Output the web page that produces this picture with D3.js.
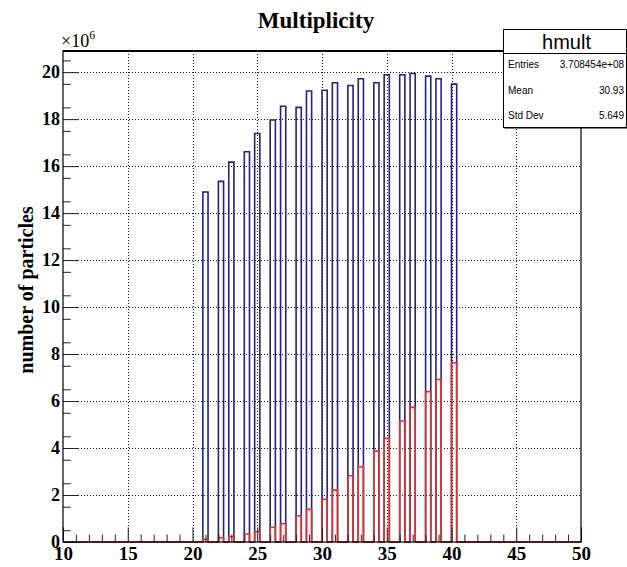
<!DOCTYPE html>
<html>
<head>
<meta charset="utf-8">
<script src="https://cdn.jsdelivr.net/npm/d3@7"></script>
<style>
  body { margin: 0; background: #fff; }
  svg { display: block; }
</style>
</head>
<body>
<div id="chart"></div>
<script>
// multiplicity values filled into the histogram (one bin each)
var multiplicity = [21, 22, 23, 24, 25, 26, 27, 28, 29, 30, 31, 32, 33, 34, 35, 36, 37, 38, 39, 40];
// blue histogram (hmult), in units of 1e6
var countsAll = [14.9, 15.35, 16.17, 16.61, 17.39, 17.96, 18.55, 18.5, 19.2, 19.23,
                 19.55, 19.43, 19.72, 19.55, 19.89, 19.89, 19.94, 19.83, 19.72, 19.49];
// red histogram, in units of 1e6
var countsSel = [0.11, 0.18, 0.23, 0.34, 0.44, 0.63, 0.78, 1.12, 1.39, 1.82,
                 2.21, 2.82, 3.2, 3.87, 4.41, 5.15, 5.73, 6.4, 6.92, 7.63];
// binning of the histogram
var xMin = 10, xMax = 50, nBins = 100;
var xTickLabels = [10, 15, 20, 25, 30, 35, 40, 45, 50];
var yTickLabels = [0, 2, 4, 6, 8, 10, 12, 14, 16, 18, 20];
var yMax = 20.9;

var statNames = ["Entries", "Mean", "Std Dev"];
var statValues = ["3.708454e+08", "30.93", "5.649"];

var W = 627, H = 567;
var frame = { left: 63, right: 581, top: 51, bottom: 542 };

var svg = d3.select("#chart").append("svg")
    .attr("width", W)
    .attr("height", H);

svg.append("rect").attr("width", W).attr("height", H).attr("fill", "#fff");

var x = d3.scaleLinear().domain([xMin, xMax]).range([frame.left, frame.right]);
var y = d3.scaleLinear().domain([0, yMax]).range([frame.bottom, frame.top]);

var serif = "'Liberation Serif', 'Times New Roman', serif";
var sans = "'Liberation Sans', Arial, sans-serif";

// grid (dotted)
var grid = svg.append("g").attr("stroke", "#111").attr("stroke-width", 1)
    .attr("stroke-dasharray", "1,2");
grid.selectAll("line.gx")
    .data(xTickLabels.filter(function(d) { return d > xMin && d < xMax; }))
    .enter().append("line")
    .attr("class", "gx")
    .attr("x1", function(d) { return Math.round(x(d)) + 0.5; })
    .attr("x2", function(d) { return Math.round(x(d)) + 0.5; })
    .attr("y1", frame.top)
    .attr("y2", frame.bottom);
grid.selectAll("line.gy")
    .data(yTickLabels.filter(function(d) { return d > 0; }))
    .enter().append("line")
    .attr("class", "gy")
    .attr("x1", frame.left)
    .attr("x2", frame.right)
    .attr("y1", function(d) { return Math.round(y(d)) + 0.5; })
    .attr("y2", function(d) { return Math.round(y(d)) + 0.5; });

// build the binned histograms
function binned(values) {
    var bins = new Array(nBins).fill(0);
    var bw = (xMax - xMin) / nBins;
    multiplicity.forEach(function(m, i) {
        var k = Math.floor((m - xMin) / bw + 1e-9);
        if (k >= 0 && k < nBins) bins[k] += values[i];
    });
    var pts = [[xMin, 0]];
    bins.forEach(function(c, k) { pts.push([xMin + k * bw, c]); });
    pts.push([xMax, 0]);
    return pts;
}

var step = d3.line()
    .x(function(d) { return x(d[0]); })
    .y(function(d) { return y(d[1]); })
    .curve(d3.curveStepAfter);

svg.append("path")
    .attr("d", step(binned(countsAll)))
    .attr("fill", "none")
    .attr("stroke", "#23237a")
    .attr("stroke-width", 1.6);

svg.append("path")
    .attr("d", step(binned(countsSel)))
    .attr("fill", "none")
    .attr("stroke", "#e3302c")
    .attr("stroke-width", 1.6);

// axes
var yAxis = svg.append("g")
    .attr("transform", "translate(" + frame.left + ",0)")
    .call(d3.axisLeft(y).tickValues(yTickLabels).tickSizeInner(-15.5).tickSizeOuter(0)
        .tickPadding(3).tickFormat(d3.format("d")));
yAxis.select(".domain").remove();
yAxis.selectAll("text")
    .attr("font-family", serif)
    .attr("font-weight", "bold")
    .attr("font-size", 18)
    .attr("fill", "#000");
yAxis.selectAll("line").attr("stroke", "#222");

var yMinor = svg.append("g")
    .attr("transform", "translate(" + frame.left + ",0)")
    .call(d3.axisLeft(y).tickValues(d3.range(0.5, yMax, 1)).tickSizeInner(-7.8).tickSizeOuter(0)
        .tickFormat(""));
yMinor.select(".domain").remove();
yMinor.selectAll("line").attr("stroke", "#222");

var xAxis = svg.append("g")
    .attr("transform", "translate(0," + frame.bottom + ")")
    .call(d3.axisBottom(x).tickValues(xTickLabels).tickSizeInner(-14.7).tickSizeOuter(0)
        .tickPadding(5).tickFormat(d3.format("d")));
xAxis.select(".domain").remove();
xAxis.selectAll("text")
    .attr("font-family", serif)
    .attr("font-weight", "bold")
    .attr("font-size", 19)
    .attr("fill", "#000");
xAxis.selectAll("line").attr("stroke", "#222");

var xMinor = svg.append("g")
    .attr("transform", "translate(0," + frame.bottom + ")")
    .call(d3.axisBottom(x).tickValues(d3.range(xMin + 1, xMax, 1).filter(function(d) { return d % 5 !== 0; }))
        .tickSizeInner(-7.4).tickSizeOuter(0).tickFormat(""));
xMinor.select(".domain").remove();
xMinor.selectAll("line").attr("stroke", "#222");

// frame
svg.append("rect")
    .attr("x", frame.left)
    .attr("y", frame.top)
    .attr("width", frame.right - frame.left)
    .attr("height", frame.bottom - frame.top)
    .attr("fill", "none")
    .attr("stroke", "#000")
    .attr("stroke-width", 1.2);
svg.append("line")
    .attr("x1", frame.left).attr("x2", frame.right)
    .attr("y1", frame.top).attr("y2", frame.top)
    .attr("stroke", "#000").attr("stroke-width", 2);

// exponent label
var expo = svg.append("text")
    .attr("x", 61)
    .attr("y", 47)
    .attr("font-family", serif)
    .attr("font-size", 18)
    .attr("fill", "#000");
expo.append("tspan").text("\u00d710");
expo.append("tspan").attr("dy", -8).attr("font-size", 12).text("6");

// title
svg.append("text")
    .attr("x", 316)
    .attr("y", 28)
    .attr("text-anchor", "middle")
    .attr("font-family", serif)
    .attr("font-weight", "bold")
    .attr("font-size", 23)
    .attr("fill", "#000")
    .text("Multiplicity");

// y label
svg.append("text")
    .attr("transform", "translate(33,290)rotate(-90)")
    .attr("text-anchor", "middle")
    .attr("font-family", serif)
    .attr("font-weight", "bold")
    .attr("font-size", 20)
    .attr("fill", "#000")
    .text("number of particles");

// stats box
var box = { x: 503, y: 29, w: 123, h: 98, head: 24 };
svg.append("rect")
    .attr("x", box.x + 1.5).attr("y", box.y + 1.5)
    .attr("width", box.w).attr("height", box.h)
    .attr("fill", "#000");
svg.append("rect")
    .attr("x", box.x + 0.5).attr("y", box.y + 0.5)
    .attr("width", box.w).attr("height", box.h)
    .attr("fill", "#fff")
    .attr("stroke", "#000");
svg.append("line")
    .attr("x1", box.x).attr("x2", box.x + box.w)
    .attr("y1", box.y + box.head + 0.5).attr("y2", box.y + box.head + 0.5)
    .attr("stroke", "#000");
svg.append("text")
    .attr("x", box.x + box.w / 2 + 2)
    .attr("y", 49)
    .attr("text-anchor", "middle")
    .attr("font-family", sans)
    .attr("font-size", 20)
    .attr("fill", "#000")
    .text("hmult");

var rows = svg.append("g").selectAll("g")
    .data(statNames)
    .enter().append("g")
    .attr("transform", function(d, i) { return "translate(0," + (68 + i * 25.7) + ")"; });
rows.append("text")
    .attr("x", box.x + 5)
    .attr("font-family", sans)
    .attr("font-size", 10)
    .attr("fill", "#000")
    .text(function(d) { return d; });
rows.append("text")
    .attr("x", box.x + box.w - 2)
    .attr("text-anchor", "end")
    .attr("font-family", sans)
    .attr("font-size", 10)
    .attr("fill", "#000")
    .text(function(d, i) { return statValues[i]; });
</script>
</body>
</html>
